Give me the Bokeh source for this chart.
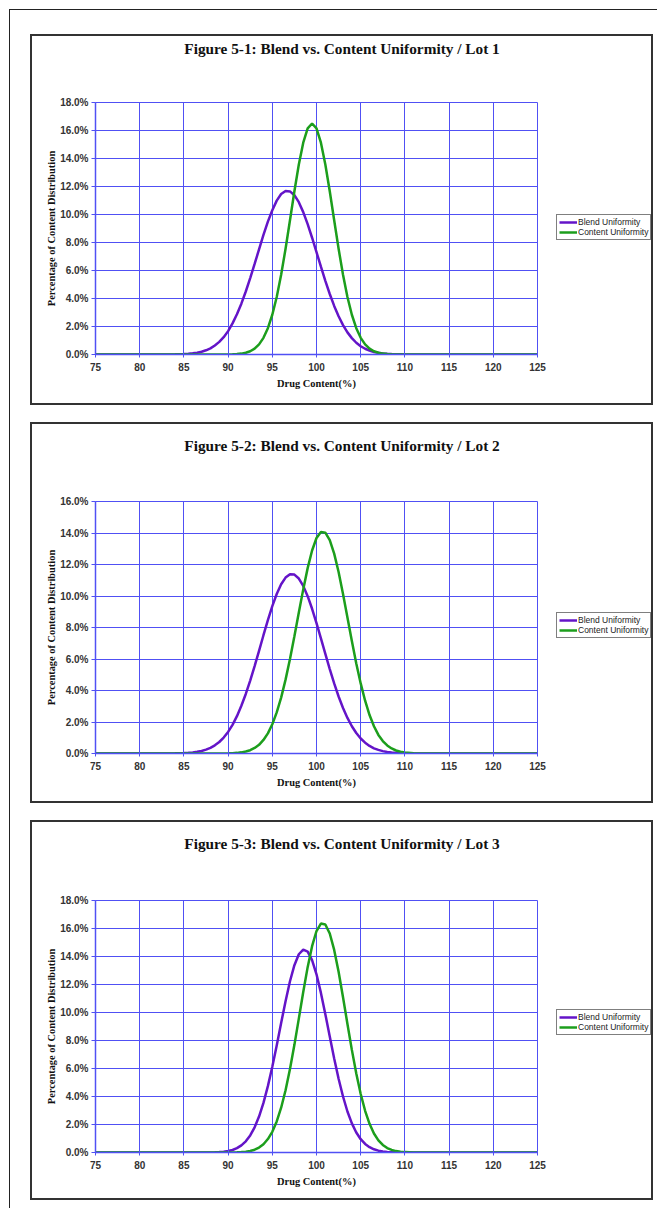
from bokeh.plotting import figure
from bokeh.models import (Range1d, FixedTicker, PrintfTickFormatter, Legend, LegendItem,
                          Spacer, Label)
from bokeh.layouts import column, row
from bokeh.embed import file_html
from bokeh.resources import INLINE

# ---------------- data ----------------
drug_content = [75, 80, 84,
                85, 85.5, 86, 86.5, 87, 87.5, 88, 88.5, 89, 89.5,
                90, 90.5, 91, 91.5, 92, 92.5, 93, 93.5, 94, 94.5,
                95, 95.5, 96, 96.5, 97, 97.5, 98, 98.5, 99, 99.5,
                100, 100.5, 101, 101.5, 102, 102.5, 103, 103.5, 104, 104.5,
                105, 105.5, 106, 106.5, 107, 107.5, 108, 108.5, 109, 109.5,
                110, 111, 115, 120, 125]

lot1_blend = [0, 0, 0.011,
              0.031, 0.051, 0.083, 0.130, 0.20, 0.30, 0.44, 0.64, 0.90, 1.24,
              1.67, 2.22, 2.87, 3.63, 4.50, 5.46, 6.47, 7.51, 8.54, 9.49,
              10.30, 10.99, 11.46, 11.68, 11.65, 11.38, 10.88, 10.17, 9.31, 8.34,
              7.31, 6.27, 5.26, 4.32, 3.47, 2.73, 2.10, 1.58, 1.17, 0.84,
              0.59, 0.41, 0.28, 0.18, 0.12, 0.075, 0.047, 0.028, 0.015, 0.010,
              0.004, 0.001, 0, 0, 0]
lot1_content = [0, 0, 0,
                0, 0, 0, 0, 0, 0, 0, 0, 0.001, 0.003,
                0.006, 0.015, 0.031, 0.064, 0.125, 0.235, 0.42, 0.72, 1.19, 1.88,
                2.84, 4.11, 5.70, 7.55, 9.59, 11.66, 13.57, 15.13, 16.15, 16.50,
                16.15, 15.13, 13.57, 11.66, 9.59, 7.55, 5.70, 4.11, 2.84, 1.88,
                1.19, 0.72, 0.42, 0.235, 0.125, 0.064, 0.031, 0.015, 0.006, 0.003,
                0.001, 0, 0, 0, 0]

lot2_blend = [0, 0, 0.009,
              0.026, 0.043, 0.068, 0.106, 0.163, 0.245, 0.36, 0.52, 0.73, 1.01,
              1.37, 1.82, 2.37, 3.03, 3.78, 4.63, 5.55, 6.52, 7.51, 8.47,
              9.36, 10.13, 10.75, 11.17, 11.38, 11.36, 11.11, 10.64, 9.99, 9.19,
              8.28, 7.31, 6.32, 5.36, 4.45, 3.62, 2.89, 2.26, 1.73, 1.30,
              0.95, 0.69, 0.48, 0.33, 0.23, 0.150, 0.098, 0.062, 0.039, 0.024,
              0.014, 0.004, 0, 0, 0]
lot2_content = [0, 0, 0,
                0, 0, 0, 0, 0, 0, 0, 0, 0.003, 0.006,
                0.011, 0.021, 0.040, 0.072, 0.125, 0.21, 0.35, 0.55, 0.86, 1.28,
                1.86, 2.61, 3.55, 4.69, 6.00, 7.44, 8.95, 10.42, 11.77, 12.89,
                13.68, 14.06, 14.02, 13.55, 12.69, 11.52, 10.13, 8.64, 7.14, 5.72,
                4.45, 3.35, 2.44, 1.73, 1.18, 0.79, 0.51, 0.32, 0.19, 0.112,
                0.064, 0.019, 0, 0, 0]

lot3_blend = [0, 0, 0,
              0, 0, 0, 0, 0.002, 0.004, 0.008, 0.016, 0.031, 0.059,
              0.106, 0.18, 0.31, 0.51, 0.80, 1.22, 1.80, 2.57, 3.54, 4.74,
              6.12, 7.65, 9.25, 10.81, 12.23, 13.38, 14.16, 14.49, 14.35, 13.74,
              12.73, 11.40, 9.88, 8.28, 6.72, 5.27, 4.00, 2.93, 2.08, 1.43,
              0.95, 0.61, 0.38, 0.23, 0.13, 0.074, 0.040, 0.021, 0.011, 0.005,
              0.002, 0, 0, 0, 0]
lot3_content = [0, 0, 0,
                0, 0, 0, 0, 0, 0, 0, 0, 0.001, 0.0015,
                0.004, 0.007, 0.016, 0.031, 0.061, 0.11, 0.20, 0.35, 0.59, 0.96,
                1.48, 2.22, 3.20, 4.45, 5.96, 7.69, 9.56, 11.46, 13.24, 14.74,
                15.82, 16.35, 16.29, 15.64, 14.47, 12.91, 11.09, 9.18, 7.33, 5.64,
                4.18, 2.98, 2.05, 1.36, 0.87, 0.54, 0.32, 0.18, 0.100, 0.053,
                0.027, 0.006, 0, 0, 0]

x_ticks = [75, 80, 85, 90, 95, 100, 105, 110, 115, 120, 125]
titles = ["Figure 5-1: Blend vs. Content Uniformity / Lot 1",
          "Figure 5-2: Blend vs. Content Uniformity / Lot 2",
          "Figure 5-3: Blend vs. Content Uniformity / Lot 3"]
y_max = [18, 16, 18]
series_names = ["Blend Uniformity", "Content Uniformity"]
x_axis_label = "Drug Content(%)"
y_axis_label = "Percentage of Content Distribution"

# ---------------- style ----------------
GRID = "#5050f4"
PURPLE = "#6414c8"
GREEN = "#1c9e1c"
SERIF = "Liberation Serif"
SANS = "Liberation Sans"
FRAME_W, FRAME_H = 442, 252
LEFT, RIGHT, LEG_W = 63, 10, 104
NO_POINT = [float("nan")]   # legend-only renderers draw nothing in the plot


def make_panel(title, blend, content, ymax, top, bottom, title_rise, legend_rise):
    p = figure(frame_width=FRAME_W, frame_height=FRAME_H, output_backend="svg",
               toolbar_location=None,
               x_range=Range1d(75, 125), y_range=Range1d(0, ymax),
               min_border_left=LEFT, min_border_right=RIGHT, min_border_top=top,
               min_border_bottom=bottom, background_fill_color="white",
               border_fill_color="white")
    p.title = None
    # title centred on the whole panel (plot + legend area)
    panel_w = LEFT + FRAME_W + RIGHT + LEG_W
    lab = Label(text=title, x=panel_w / 2 - LEFT, y=title_rise, x_units="screen",
                y_units="screen", text_align="center", text_baseline="middle",
                text_font=SERIF, text_font_size="15.3px", text_font_style="bold",
                text_color="#111111")
    p.add_layout(lab, "above")

    xa, ya = p.below[0], p.left[0]
    xa.ticker = FixedTicker(ticks=x_ticks)
    ya.ticker = FixedTicker(ticks=list(range(0, ymax + 1, 2)))
    ya.formatter = PrintfTickFormatter(format="%.1f%%")

    for ax in (xa, ya):
        ax.axis_line_color = GRID
        ax.axis_line_width = 1.5
        ax.major_tick_line_color = GRID
        ax.minor_tick_line_color = None
        ax.major_label_text_font = SANS
        ax.major_label_text_font_style = "bold"
        ax.major_label_text_font_size = "10px"
        ax.major_label_text_color = "#333333"
        ax.axis_label_text_font = SERIF
        ax.axis_label_text_font_style = "bold"
        ax.axis_label_text_font_size = "10.4px"
        ax.axis_label_text_color = "#111111"
    xa.major_tick_in = 3
    xa.major_tick_out = 3
    ya.major_tick_in = 0
    ya.major_tick_out = 4
    xa.major_label_standoff = 5
    ya.major_label_standoff = 3
    xa.axis_label = x_axis_label
    ya.axis_label = y_axis_label
    xa.axis_label_standoff = 4
    ya.axis_label_standoff = 0

    p.xgrid.ticker = FixedTicker(ticks=x_ticks)
    p.ygrid.ticker = FixedTicker(ticks=list(range(0, ymax + 1, 2)))
    for g in (p.xgrid, p.ygrid):
        g.grid_line_color = GRID
        g.grid_line_width = 1
    p.outline_line_color = GRID
    p.outline_line_width = 1

    p.line(drug_content, blend, line_color=PURPLE, line_width=2.5)
    p.line(drug_content, content, line_color=GREEN, line_width=2.5)

    # legend area to the right of the plot (frames of a row are aligned)
    height = top + FRAME_H + bottom
    q = figure(width=LEG_W, height=height, output_backend="svg", toolbar_location=None,
               x_axis_type=None, y_axis_type=None, min_border=0,
               x_range=Range1d(0, 1), y_range=Range1d(0, 1),
               background_fill_color="white", border_fill_color="white",
               outline_line_color=None)
    q.xgrid.visible = False
    q.ygrid.visible = False
    k1 = q.line(NO_POINT, NO_POINT, line_color=PURPLE, line_width=2.5)
    k2 = q.line(NO_POINT, NO_POINT, line_color=GREEN, line_width=2.5)
    legend = Legend(items=[LegendItem(label=series_names[0], renderers=[k1]),
                           LegendItem(label=series_names[1], renderers=[k2])],
                    location=(LEG_W - 95, legend_rise), orientation="vertical",
                    label_text_font=SANS, label_text_font_size="8.5px",
                    label_text_color="#222222",
                    glyph_width=18, glyph_height=8, label_height=8, label_standoff=1,
                    spacing=0, padding=2, margin=0,
                    border_line_color="black", border_line_width=1.5,
                    background_fill_color="white", background_fill_alpha=1)
    q.add_layout(legend, "center")
    return row(p, q, spacing=0, styles={"border": "2px solid #333333"})


b1 = make_panel(titles[0], lot1_blend, lot1_content, y_max[0], 66, 49, 54, 114)
b2 = make_panel(titles[1], lot2_blend, lot2_content, y_max[1], 77, 48, 56, 115)
b3 = make_panel(titles[2], lot3_blend, lot3_content, y_max[2], 78, 46, 57, 117)

inner = column(Spacer(height=24), b1, Spacer(height=17), b2, Spacer(height=17), b3, Spacer(height=8),
               spacing=0)
framed = row(Spacer(width=20), inner, Spacer(width=6),
             styles={"border-left": "1.5px solid #222222", "border-top": "1.5px solid #222222"})
page = column(Spacer(height=9), row(Spacer(width=9), framed))

open("out.html", "w").write(file_html(page, INLINE))
